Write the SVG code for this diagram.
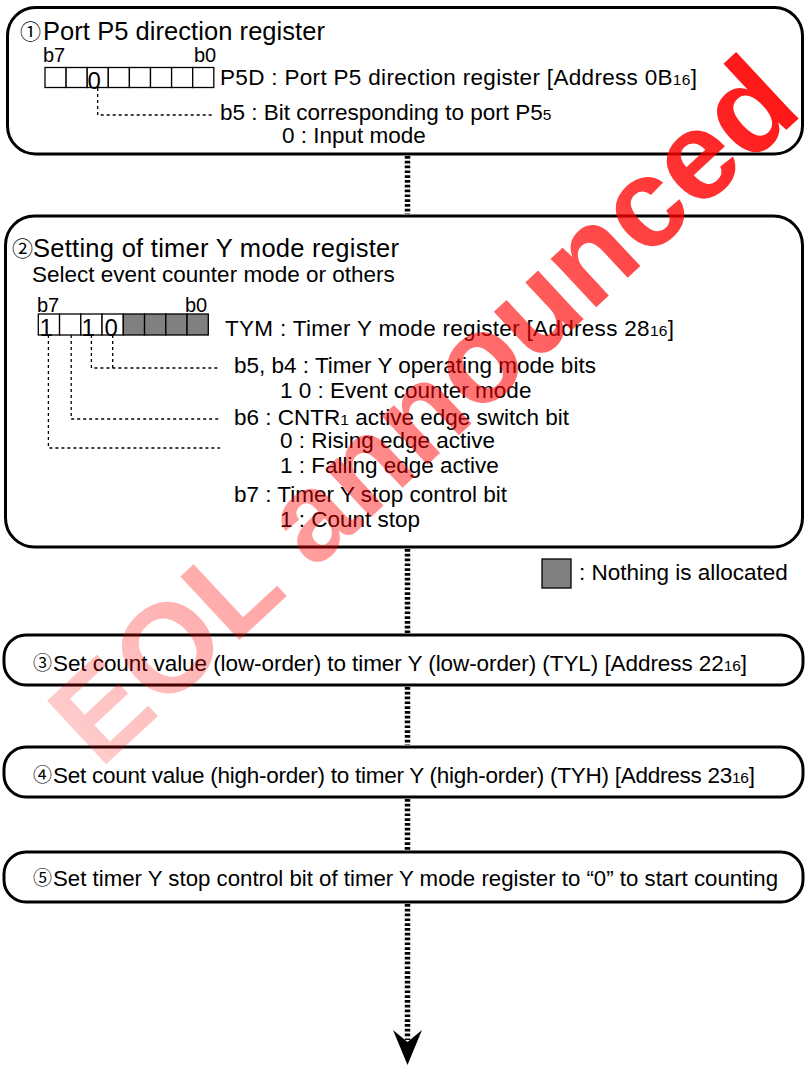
<svg xmlns="http://www.w3.org/2000/svg" width="805" height="1066" viewBox="0 0 805 1066">
<style>
.box{fill:none;stroke:#000;stroke-width:3}
.cell{fill:#fff;stroke:#000;stroke-width:1.3}
.na{fill:#808080;stroke:#000;stroke-width:1.3}
.lead{fill:none;stroke:#000;stroke-width:1.3;stroke-dasharray:3 3}
.flow{fill:none;stroke:#000;stroke-width:5.5;stroke-dasharray:2.7 2.1}
text{font-family:"Liberation Sans",Arial,"Noto Sans CJK JP",sans-serif;fill:#000}
.t{font-size:25.5px}
.b{font-size:22.5px}
.s{font-size:20px}
.sub{font-size:15.5px}
.d{font-size:24px}
.c{font-family:"Noto Sans CJK JP",sans-serif;font-size:19px}
.ct{font-family:"Noto Sans CJK JP",sans-serif;font-size:21px}
.wm{font-family:"Liberation Sans",Arial,sans-serif;font-weight:bold;font-size:126px;fill:url(#wmg)}
</style>
<defs>
<linearGradient id="wmg" gradientUnits="userSpaceOnUse" x1="0" y1="0" x2="966" y2="0">
<stop offset="0" stop-color="#ff0000" stop-opacity="0.2"/>
<stop offset="0.5" stop-color="#ff0000" stop-opacity="0.5"/>
<stop offset="1" stop-color="#ff0000" stop-opacity="0.92"/>
</linearGradient>
</defs>
<rect width="805" height="1066" fill="#fff"/>

<g id="connectors">
<path class="flow" d="M407.5 156V214M407.5 549V633M407.5 687V745M407.5 799V850M407.5 904V1040"/>
<polygon points="393,1030 407.5,1065 422,1030 407.5,1042" fill="#000"/>
</g>

<g id="step1">
<rect class="box" x="7.5" y="7.5" width="795" height="146.5" rx="28"/>
<text class="ct" x="20" y="39">①</text>
<text class="t" x="43" y="40" textLength="282">Port P5 direction register</text>
<text class="s" x="43" y="62">b7</text>
<text class="s" x="194" y="62">b0</text>
<g>
<rect class="cell" x="45" y="67.5" width="21.1" height="20"/>
<rect class="cell" x="66.1" y="67.5" width="21.1" height="20"/>
<rect class="cell" x="87.2" y="67.5" width="21.1" height="20"/>
<rect class="cell" x="108.3" y="67.5" width="21.1" height="20"/>
<rect class="cell" x="129.4" y="67.5" width="21.1" height="20"/>
<rect class="cell" x="150.5" y="67.5" width="21.1" height="20"/>
<rect class="cell" x="171.6" y="67.5" width="21.1" height="20"/>
<rect class="cell" x="192.7" y="67.5" width="21.1" height="20"/>
</g>
<text class="d" x="87.5" y="88.5">0</text>
<path class="lead" d="M97.7 88V115H213"/>
<text class="b" x="220" y="85" textLength="477">P5D : Port P5 direction register [Address 0B<tspan class="sub">16</tspan>]</text>
<text class="b" x="220" y="120">b5 : Bit corresponding to port P5<tspan class="sub">5</tspan></text>
<text class="b" x="282" y="143">0 : Input mode</text>
</g>

<g id="step2">
<rect class="box" x="5.5" y="216" width="797" height="331" rx="29"/>
<text class="ct" x="12" y="256">②</text>
<text class="t" x="33" y="257" textLength="366">Setting of timer Y mode register</text>
<text class="b" x="32" y="282">Select event counter mode or others</text>
<text class="s" x="37" y="312">b7</text>
<text class="s" x="185" y="312">b0</text>
<g>
<rect class="cell" x="38.3" y="314" width="21.25" height="21"/>
<rect class="cell" x="59.55" y="314" width="21.25" height="21"/>
<rect class="cell" x="80.8" y="314" width="21.25" height="21"/>
<rect class="cell" x="102.05" y="314" width="21.25" height="21"/>
<rect class="na" x="123.3" y="314" width="21.25" height="21"/>
<rect class="na" x="144.55" y="314" width="21.25" height="21"/>
<rect class="na" x="165.8" y="314" width="21.25" height="21"/>
<rect class="na" x="187.05" y="314" width="21.25" height="21"/>
</g>
<text class="d" x="39.5" y="335.5">1</text>
<text class="d" x="81.5" y="335.5">1</text>
<text class="d" x="104.5" y="335.5">0</text>
<path class="lead" d="M112.7 335V368M91.4 335V368H220M71.2 335V419H220M48.4 335V448H220"/>
<text class="b" x="225" y="336" textLength="449">TYM : Timer Y mode register [Address 28<tspan class="sub">16</tspan>]</text>
<text class="b" x="234" y="373">b5, b4 : Timer Y operating mode bits</text>
<text class="b" x="280" y="398">1 0 : Event counter mode</text>
<text class="b" x="234" y="425">b6 : CNTR<tspan class="sub">1</tspan> active edge switch bit</text>
<text class="b" x="280" y="448">0 : Rising edge active</text>
<text class="b" x="280" y="473">1 : Falling edge active</text>
<text class="b" x="234" y="502">b7 : Timer Y stop control bit</text>
<text class="b" x="280" y="527">1 : Count stop</text>
</g>

<g id="legend">
<rect class="na" x="542" y="559" width="29" height="29"/>
<text class="b" x="579" y="580">: Nothing is allocated</text>
</g>

<g id="step3">
<rect class="box" x="4" y="635" width="799" height="50" rx="22"/>
<text class="c" x="33" y="670">③</text>
<text class="b" x="53" y="671" textLength="694">Set count value (low-order) to timer Y (low-order) (TYL) [Address 22<tspan class="sub">16</tspan>]</text>
</g>

<g id="step4">
<rect class="box" x="4" y="747" width="799" height="50" rx="22"/>
<text class="c" x="33" y="782">④</text>
<text class="b" x="53" y="783" textLength="702">Set count value (high-order) to timer Y (high-order) (TYH) [Address 23<tspan class="sub">16</tspan>]</text>
</g>

<g id="step5">
<rect class="box" x="4" y="852" width="799" height="50" rx="22"/>
<text class="c" x="33" y="885">⑤</text>
<text class="b" x="53" y="886" textLength="725" lengthAdjust="spacingAndGlyphs">Set timer Y stop control bit of timer Y mode register to “0” to start counting</text>
</g>

<g id="watermark">
<text class="wm" transform="translate(100 770) rotate(-43)">EOL announced</text>
</g>
</svg>
